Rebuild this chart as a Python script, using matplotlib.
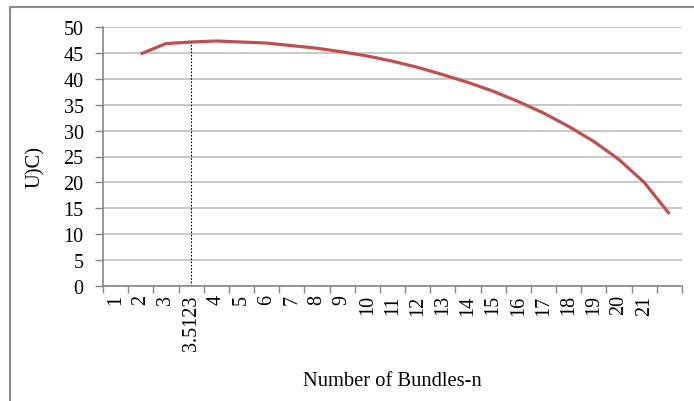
import matplotlib
matplotlib.use("Agg")
import matplotlib.pyplot as plt
from matplotlib.patches import Rectangle
import numpy as np

# categories on the x axis (last slot has no label)
categories = ['1', '2', '3', '3.5123', '4', '5', '6', '7', '8', '9', '10',
              '11', '12', '13', '14', '15', '16', '17', '18', '19', '20', '21', '']
# U(C) values, first category has no point
u_values = [np.nan, 44.8, 46.8, 47.1, 47.3, 47.1, 46.9, 46.4, 45.9, 45.2, 44.4,
            43.4, 42.2, 40.8, 39.3, 37.6, 35.6, 33.4, 30.8, 27.9, 24.4, 20.0, 13.9]
marker_cat = '3.5123'

plt.rcParams['font.family'] = ['Liberation Serif', 'DejaVu Serif']

fig = plt.figure(figsize=[6.94, 4.02], dpi=100)
ax = fig.add_axes([103/694, 1 - 287/402, 579/694, 259/402])

x = np.arange(len(categories))
ax.plot(x, u_values, color='#c0504d', lw=2.3, solid_capstyle='butt')

mi = categories.index(marker_cat)
ax.vlines(x[mi], 0, u_values[mi], colors='black', linestyles=(0, (1.5, 1.5)), lw=0.8)

ax.set_xlim(-0.5, len(categories) - 0.5)
ax.set_ylim(0, 50)
ax.set_yticks(np.arange(0, 51, 5))
ax.grid(axis='y', color='#bfbfbf', lw=1.2)
ax.set_axisbelow(True)

# ticks at category boundaries, labels in the middle
ax.set_xticks(np.arange(len(categories) + 1) - 0.5)
ax.set_xticklabels([])
ax.set_xticks(x, minor=True)
ax.set_xticklabels(categories, minor=True, rotation=90, fontsize=14.5)
ax.tick_params(axis='x', which='minor', length=0, pad=6)
ax.tick_params(axis='x', which='major', length=5, color='#868686', width=1)
ax.tick_params(axis='y', length=6, color='#868686', width=1, labelsize=14.5, pad=8)

for s in ['top', 'right']:
    ax.spines[s].set_visible(False)
ax.spines['left'].set_color('#868686')
ax.spines['bottom'].set_color('#868686')
ax.spines['left'].set_linewidth(1.2)
ax.spines['bottom'].set_linewidth(1.2)

ax.set_xlabel('Number of Bundles-n', fontsize=14.8)
ax.xaxis.set_label_coords(0.5, -0.328)
ax.set_ylabel('U)C)', fontsize=14.8)
ax.yaxis.set_label_coords(-0.1, 0.463)

# outer chart border (cut off at right and bottom)
fig.patches.append(Rectangle((10/694, -0.1), 1.2, 1.1 - 8/402, transform=fig.transFigure,
                             fill=False, edgecolor='#8c8c8c', lw=1.5))

fig.savefig('out.png', dpi=100)
